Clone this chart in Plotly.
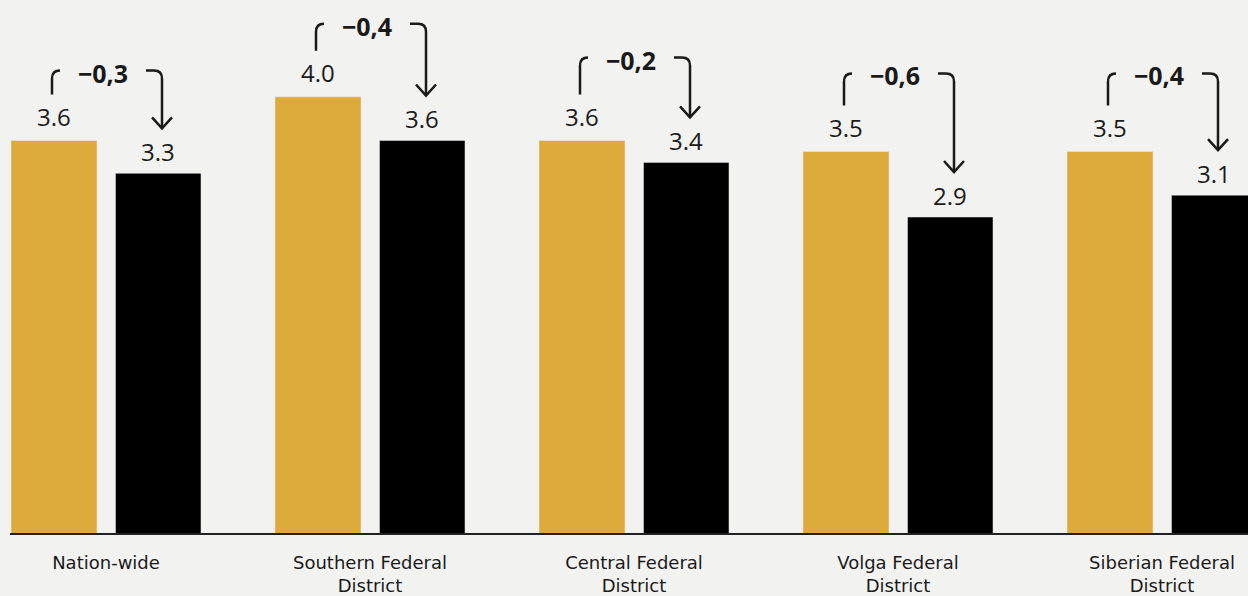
import plotly.graph_objects as go

# ---- data ----
categories = ["Nation-wide", "Southern Federal<br>District", "Central Federal<br>District",
              "Volga Federal<br>District", "Siberian Federal<br>District"]
series_prev = [3.6, 4.0, 3.6, 3.5, 3.5]   # gold bars
series_curr = [3.3, 3.6, 3.4, 2.9, 3.1]   # black bars

# ---- layout constants (pixels) ----
W, H = 1248, 596
MB = 62
PLOT_H = H - MB
PPU = 109.3            # pixels per value unit
CAT_PX = 264           # pixels per category
FIRST_PX = 106         # pixel x of first category centre
bracket_lift_px = [70, 73, 83, 78, 78]

GOLD = "#ddab3b"
BLACK = "#000000"
BG = "#f2f2f0"
INK = "#1a1a1a"
FONT = "Open Sans"
CAT_FONT = "DejaVu Sans"

def dx(px):
    return px / CAT_PX

def dy(px):
    return px / PPU

xs = list(range(len(categories)))

fig = go.Figure()
fig.add_trace(go.Bar(x=xs, y=series_prev, name="Previous", marker_color=GOLD,
                     offset=dx(-95), width=dx(86), showlegend=False, hoverinfo="y"))
fig.add_trace(go.Bar(x=xs, y=series_curr, name="Current", marker_color=BLACK,
                     offset=dx(9.5), width=dx(85.5), showlegend=False, hoverinfo="y"))

annotations = []
shapes = []
for i, (g, b) in enumerate(zip(series_prev, series_curr)):
    gx = i + dx(-52)
    bx = i + dx(52)
    annotations.append(dict(x=gx, y=g, xref="x", yref="y", text=f"{g:.1f}", showarrow=False,
                            yanchor="middle", yshift=24, font=dict(family=FONT, size=24, color=INK)))
    annotations.append(dict(x=bx, y=b, xref="x", yref="y", text=f"{b:.1f}", showarrow=False,
                            yanchor="middle", yshift=22, font=dict(family=FONT, size=24, color=INK)))
    # bracket
    xl = i + dx(-54)
    xr = i + dx(56)
    yt = g + dy(bracket_lift_px[i])
    yb = g + dy(46)
    ytip = b + dy(45)
    r = 8
    left = (f"M {xl},{yb} L {xl},{yt - dy(r)} Q {xl},{yt} {xl + dx(r)},{yt}")
    right = (f"M {xr - dx(16)},{yt} L {xr - dx(r)},{yt} Q {xr},{yt} {xr},{yt - dy(r)} L {xr},{ytip}")
    head = (f"M {xr - dx(10)},{ytip + dy(11)} L {xr},{ytip} L {xr + dx(10)},{ytip + dy(11)}")
    for p in (left, right, head):
        shapes.append(dict(type="path", path=p, xref="x", yref="y",
                           line=dict(color=INK, width=2.5)))
    d = b - g
    dtext = f"{d:.1f}".replace(".", ",").replace("-", "\u2212")
    annotations.append(dict(x=i, y=yt, xref="x", yref="y", text=f"<b>{dtext}</b>", showarrow=False,
                            yanchor="middle", xshift=-3, yshift=-2,
                            font=dict(family=FONT, size=25, color=INK)))

# baseline
shapes.append(dict(type="line", xref="paper", yref="paper", x0=10 / W, x1=1, y0=0, y1=0,
                   line=dict(color="#222222", width=2)))

fig.update_layout(
    width=W, height=H,
    margin=dict(l=0, r=0, t=0, b=MB),
    paper_bgcolor=BG, plot_bgcolor=BG,
    barmode="overlay",
    annotations=annotations, shapes=shapes,
    xaxis=dict(range=[-FIRST_PX / CAT_PX, (W - FIRST_PX) / CAT_PX],
               tickvals=xs, ticktext=categories, showgrid=False, zeroline=False,
               showline=False, ticks="", ticklabelstandoff=16, automargin=False,
               tickfont=dict(family=CAT_FONT, size=18, color=INK), fixedrange=True),
    yaxis=dict(range=[0, PLOT_H / PPU], visible=False, fixedrange=True, automargin=False),
)

fig.write_html("out.html", config={"displayModeBar": False})
